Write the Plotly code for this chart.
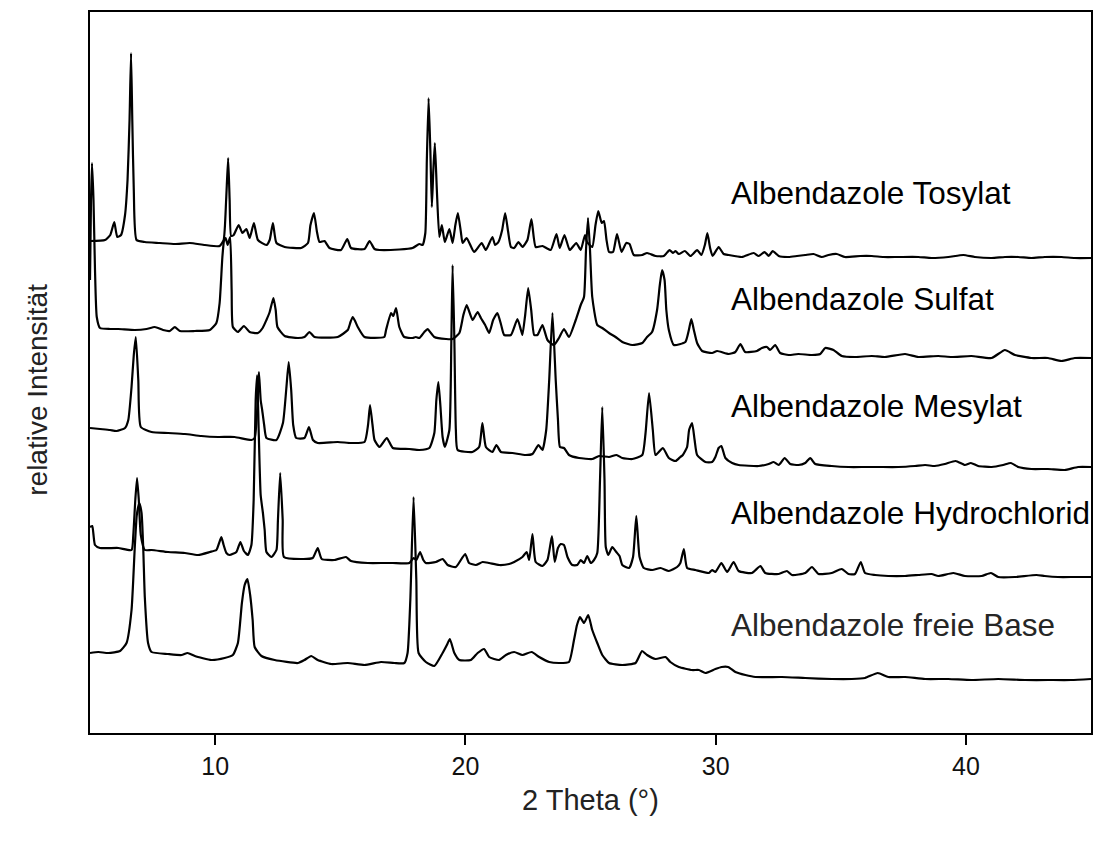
import plotly.graph_objects as go

# ---- data: 2-theta positions and stacked intensities ----
tosylat_x = [5.00,5.60,5.81,5.97,6.09,6.24,6.40,6.50,6.58,6.64,6.69,6.75,6.86,7.19,7.79,8.39,8.99,9.59,10.18,10.34,10.44,10.52,10.58,10.64,10.74,10.94,11.09,11.25,11.38,11.55,11.71,12.05,12.18,12.31,12.45,12.78,13.44,13.71,13.81,13.95,14.07,14.17,14.37,14.57,15.03,15.28,15.43,15.97,16.17,16.37,16.57,17.36,17.89,18.16,18.29,18.40,18.46,18.53,18.60,18.66,18.72,18.78,18.86,18.96,19.06,19.18,19.36,19.49,19.60,19.70,19.82,19.89,20.05,20.35,20.65,20.82,21.08,21.19,21.32,21.47,21.59,21.71,21.82,21.95,22.12,22.28,22.48,22.64,22.81,23.08,23.41,23.64,23.77,23.96,24.17,24.43,24.61,24.78,24.86,25.07,25.20,25.31,25.45,25.54,25.64,25.74,25.90,26.06,26.24,26.43,26.56,26.73,27.07,27.26,27.60,27.93,28.16,28.29,28.40,28.53,28.77,29.00,29.26,29.43,29.57,29.67,29.78,29.88,30.12,30.32,30.52,31.05,31.52,31.72,31.96,32.12,32.28,32.52,32.92,33.25,33.58,33.91,34.24,34.51,34.84,35.17,35.78,36.24,36.71,37.30,38.10,38.63,39.30,39.90,40.36,41.03,41.56,42.09,42.62,43.15,43.82,44.35,45.00]
tosylat_y = [492,493,498,511,496,498,518,553,613,680,613,543,493,491,490,489,490,488,487,493,533,575,533,497,498,508,500,504,495,510,493,488,493,510,490,486,485,490,508,520,501,491,492,485,483,494,485,484,492,484,483,483.5,485,489,488,500,573,635,583,526,563,590,543,496,508,491,504,490,508,520,501,490,495,481,490,483,496,488,491,503,520,501,486,485,491,486,493,514,486,487,483,499,485,498,483,490,483,498,491,486,508,522,510,512,493,481,481,499,481,490,489,478,478,480,477,477,483,480,482,479,482,477,483,478,488,500,485,477,486,479,478,476,480,477,481,477,482,477,476,477,478,479,476,478,479,476,477,477,476,476,476,475,476,478,476,475,476,476,475,476,476,475,475]

sulfat_x = [5.00,5.04,5.08,5.14,5.20,5.27,5.40,5.80,6.13,6.79,7.26,7.59,7.92,8.19,8.39,8.59,9.19,9.79,10.05,10.18,10.29,10.36,10.42,10.50,10.60,10.66,10.71,10.91,11.15,11.38,11.71,11.90,12.05,12.18,12.33,12.42,12.49,12.78,13.31,13.57,13.77,13.97,14.90,15.30,15.41,15.50,15.61,15.70,15.97,16.76,16.83,17.03,17.12,17.23,17.36,17.56,17.89,18.02,18.16,18.36,18.49,18.76,19.23,19.49,19.76,19.92,20.05,20.16,20.29,20.49,20.62,20.79,20.95,21.11,21.28,21.43,21.55,21.82,22.08,22.22,22.28,22.39,22.51,22.63,22.75,22.88,23.08,23.28,23.54,23.74,23.94,24.14,24.41,24.61,24.74,24.82,24.90,24.98,25.07,25.27,25.47,25.74,26.00,26.27,26.67,27.07,27.26,27.46,27.66,27.77,27.86,27.96,28.03,28.13,28.33,28.79,28.93,29.03,29.13,29.26,29.46,29.86,30.06,30.52,30.79,30.99,31.18,31.65,31.85,32.05,32.18,32.38,32.58,32.92,33.31,33.85,34.18,34.38,34.71,35.04,35.57,36.24,36.77,37.57,38.10,38.90,39.43,40.22,41.03,41.56,41.96,42.62,43.28,43.82,44.35,45.00]
sulfat_y = [453,533,570,533,463,416,405,404,404,403,404,406,403,402,406,402,402,403,410,430,476,493,495,488,496,443,406,401,407,401,400,405,413,421,435,423,406,397,395,396,401,396,396,403,411,416,411,406,396,396,403,420,417,425,406,396,395,396,395,401,404,396,394,394,400,418,428,421,413,421,415,408,400,413,420,408,398,398,414,403,398,418,445,423,398,398,408,393,388,395,404,396,413,428,436,483,515,483,436,408,405,400,396,391,388,390,396,401,423,448,463,453,423,403,388,391,403,414,403,390,382,380,382,379,381,389,381,382,385,386,383,388,380,378,379,378,379,385,383,377,376,377,376,379,376,377,376,377,375,383,378,375,375,372,375,375]

mesylat_x = [5.00,5.40,5.80,6.06,6.40,6.53,6.66,6.75,6.83,6.93,7.03,7.46,8.12,8.79,9.45,10.12,10.78,11.45,11.58,11.68,11.75,11.82,11.88,11.96,12.05,12.45,12.71,12.84,12.94,13.04,13.12,13.24,13.57,13.75,13.91,14.10,14.90,15.43,15.97,16.11,16.19,16.29,16.37,16.57,16.86,17.10,17.76,18.16,18.56,18.76,18.84,18.92,19.00,19.09,19.18,19.36,19.44,19.49,19.56,19.62,19.69,20.28,20.55,20.68,20.82,21.08,21.24,21.42,21.88,22.41,22.68,22.92,23.08,23.23,23.35,23.48,23.61,23.70,23.78,23.94,24.14,24.54,25.07,25.34,25.74,26.04,26.27,26.67,27.07,27.20,27.34,27.49,27.60,27.89,28.13,28.40,28.59,28.69,28.86,28.94,29.06,29.16,29.26,29.59,29.86,29.99,30.12,30.23,30.39,30.66,30.92,31.72,32.12,32.32,32.52,32.76,32.98,33.31,33.58,33.78,33.98,34.64,35.31,35.97,36.51,37.30,37.97,38.37,38.76,39.16,39.59,39.96,40.20,40.49,41.03,41.49,41.80,42.09,42.62,43.28,43.95,44.48,45.00]
mesylat_y = [305,304,303,302,305,313,346,378,396,353,306,301,300,299,297,296,296,293,295,323,361,333,323,308,295,293,310,343,371,343,308,295,295,306,293,290,291,290,291,308,328,308,293,286,295,285,284,283,285,300,333,351,328,296,286,303,393,468,393,303,283,281,286,310,286,281,288,281,280,278,279,288,283,303,353,420,353,313,286,285,278,275,274,277,276,278,275,274,278,300,340,303,278,285,275,272,276,278,286,303,310,293,278,271,271,276,285,287,275,270,268,267,269,271,268,275,269,268,270,275,269,267,266,266,266,266,267,268,267,269,272,268,270,267,266,268,270,266,264,264,263,266,266]

hydrochlorid_x = [5.00,5.09,5.20,5.40,6.13,6.66,6.73,6.81,6.88,6.95,7.03,7.19,7.46,8.12,8.79,9.32,9.79,10.05,10.16,10.25,10.34,10.45,10.58,10.85,11.01,11.15,11.31,11.45,11.54,11.62,11.68,11.74,11.82,11.91,11.98,12.05,12.25,12.45,12.51,12.60,12.70,12.75,13.44,13.90,14.10,14.26,14.77,15.23,15.43,16.10,16.76,17.10,17.76,17.93,18.04,18.19,18.32,18.42,18.82,19.09,19.29,19.62,19.99,20.15,20.42,20.69,20.95,21.35,21.75,21.95,22.28,22.45,22.55,22.68,22.81,23.08,23.28,23.46,23.57,23.70,23.81,23.94,24.08,24.27,24.47,24.61,24.74,24.87,25.01,25.14,25.27,25.38,25.47,25.56,25.61,25.71,25.87,26.03,26.16,26.27,26.54,26.70,26.83,26.96,27.13,27.47,27.80,28.13,28.46,28.59,28.73,28.86,29.19,29.73,29.86,29.99,30.23,30.46,30.72,30.92,31.45,31.79,31.98,32.52,32.85,33.05,33.58,33.85,34.11,34.64,35.04,35.31,35.57,35.80,35.97,36.37,36.90,37.57,38.10,38.63,38.90,39.50,39.96,40.63,41.00,41.29,41.96,42.82,43.15,43.68,44.35,45.00]
hydrochlorid_y = [206,207,188,185,185,183,198,233,255,233,198,183,183,181,180,178,181,183,190,196,188,180,178,181,191,182,178,188,233,333,358,303,238,220,203,181,176,183,213,260,213,176,174,175,185,174,173,176,172,170,170,170,170,175,173,181,173,170,171,174,168,166,179,170,168,171,170,168,169,171,176,181,173,199,171,167,173,197,171,185,189,188,176,168,168,173,170,177,170,173,180,253,326,253,186,178,186,181,177,168,165,176,217,176,165,163,165,162,166,170,184,165,163,160,163,161,170,161,171,162,160,167,160,159,162,158,160,166,159,160,164,159,159,171,160,158,157,157,158,159,157,160,157,157,160,156,156,158,157,156,156,156]

freie_base_x = [5.00,5.33,5.73,6.20,6.46,6.66,6.79,6.87,6.97,7.06,7.13,7.19,7.32,7.46,8.12,8.66,8.90,9.19,9.85,10.38,10.71,10.91,11.07,11.18,11.29,11.40,11.50,11.58,11.85,12.38,13.31,13.57,13.84,14.10,14.64,15.30,15.97,16.63,17.16,17.56,17.69,17.80,17.93,18.04,18.13,18.42,18.76,19.09,19.26,19.38,19.56,19.76,20.22,20.49,20.75,20.95,21.35,21.62,21.95,22.28,22.65,22.95,23.35,23.74,24.14,24.34,24.46,24.58,24.74,24.91,25.07,25.27,25.47,25.74,26.27,26.80,27.06,27.26,27.60,28.00,28.19,28.53,29.06,29.33,29.59,29.99,30.24,30.50,30.79,31.19,31.59,32.65,33.58,34.64,35.44,35.97,36.48,36.90,37.57,38.37,39.30,40.22,41.29,42.36,43.28,44.21,45.00]
freie_base_y = [80,81,80,82,90,123,186,218,230,220,183,136,90,81,79,78,80,77,73,75,78,90,130,148,154,138,113,86,77,73,70,73,77,73,69,70,68,71,70,70,80,133,236,153,80,71,67,80,88,94,80,73,73,80,84,76,73,78,81,78,81,76,71,70,71,93,108,116,110,118,103,90,78,70,68,70,82,78,74,76,71,66,63,63,60,64,66,66,61,58,56,56,55,54,54,55,60,56,56,54,54,53,54,53,53,53,54]

series_names = ["Albendazole Tosylat", "Albendazole Sulfat", "Albendazole Mesylat",
                "Albendazole Hydrochlorid", "Albendazole freie Base"]
series_x = [tosylat_x, sulfat_x, mesylat_x, hydrochlorid_x, freie_base_x]
series_y = [tosylat_y, sulfat_y, mesylat_y, hydrochlorid_y, freie_base_y]
label_y = [540, 434, 327, 220, 108]
label_colors = ["#000000", "#000000", "#000000", "#000000", "#262626"]
x_ticks = [10, 20, 30, 40]

FONT = "Liberation Sans, Arial, sans-serif"

fig = go.Figure()
for name, xs, ys in zip(series_names, series_x, series_y):
    fig.add_trace(go.Scatter(x=xs, y=ys, mode="lines", name=name,
                             line=dict(color="black", width=2.2, shape="spline", smoothing=0.5),
                             showlegend=False))

for name, ly, col in zip(series_names, label_y, label_colors):
    fig.add_annotation(x=30.52, y=ly, xref="x", yref="y", text=name, showarrow=False,
                       xanchor="left", yanchor="middle",
                       font=dict(family=FONT, size=31.5, color=col))

fig.add_annotation(x=-0.052, y=0.476, xref="paper", yref="paper", text="relative Intensität",
                   showarrow=False, textangle=-90, xanchor="center", yanchor="middle",
                   font=dict(family=FONT, size=28, color="#222"))
fig.add_annotation(x=0.5, y=-0.093, xref="paper", yref="paper", text="2 Theta (°)",
                   showarrow=False, xanchor="center", yanchor="middle",
                   font=dict(family=FONT, size=29, color="#222"))

fig.update_layout(
    width=1096, height=853,
    margin=dict(l=90, r=3, t=12, b=120),
    paper_bgcolor="white", plot_bgcolor="white",
    xaxis=dict(range=[5, 45], tickvals=x_ticks, ticks="outside", ticklen=10, tickwidth=2,
               tickcolor="black", showline=True, linecolor="black", linewidth=2, mirror=True,
               showgrid=False, zeroline=False,
               tickfont=dict(family=FONT, size=25, color="#111")),
    yaxis=dict(range=[0, 721], showticklabels=False, ticks="", showline=True,
               linecolor="black", linewidth=2, mirror=True, showgrid=False, zeroline=False),
)

fig.write_html("out.html", config={"displayModeBar": False},
               post_script="document.body.style.margin='0';document.body.style.overflow='hidden';")
